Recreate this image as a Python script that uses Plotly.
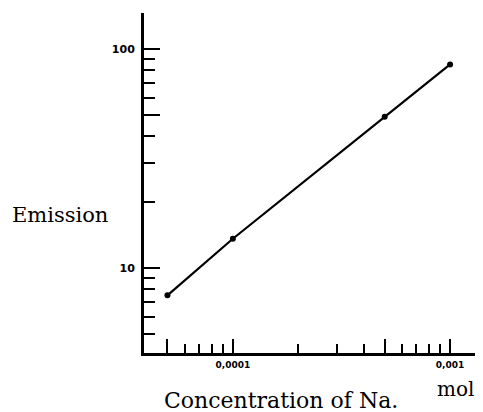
import plotly.graph_objects as go
import math

# Data
conc = [5e-5, 1e-4, 5e-4, 1e-3]          # mol
emission = [7.5, 13.6, 49, 85]

x_major = [5e-5, 1e-4, 5e-4, 1e-3]
x_major_text = ["", "0,0001", "", "0,001"]
x_minor = [6e-5, 7e-5, 8e-5, 9e-5, 2e-4, 3e-4, 4e-4, 6e-4, 7e-4, 8e-4, 9e-4]

y_major = [10, 50, 100]
y_major_text = ["10", "", "100"]
y_minor = [5, 6, 7, 8, 9, 20, 30, 40, 60, 70, 80, 90]

x_range = [math.log10(3.9e-5), math.log10(1.33e-3)]
y_range = [math.log10(4.09), math.log10(146)]

OFF = 8  # default page body margin
W, H = 483 - OFF, 412 - OFF
L, R, T, B = 144 - OFF, 6, 13 - OFF, 59
pw, ph = W - L - R, H - T - B

def px(x):
    return (x - OFF - L) / pw

def py(y):
    return (H - B - (y - OFF)) / ph

fig = go.Figure()
fig.add_trace(go.Scatter(x=conc, y=emission, mode="lines+markers",
                         line=dict(color="black", width=2.2),
                         marker=dict(color="black", size=6),
                         showlegend=False, hoverinfo="skip"))
# invisible trace to hold the minor-tick overlay axes
fig.add_trace(go.Scatter(x=[conc[0]], y=[emission[0]], xaxis="x2", yaxis="y2",
                         mode="markers", marker=dict(opacity=0),
                         showlegend=False, hoverinfo="skip"))

fig.update_layout(
    width=W, height=H,
    margin=dict(l=L, r=R, t=T, b=B),
    paper_bgcolor="white", plot_bgcolor="white",
    xaxis=dict(type="log", range=x_range, showgrid=False, zeroline=False,
               showline=True, linecolor="black", linewidth=3,
               tickvals=x_major, ticktext=x_major_text,
               ticks="inside", ticklen=14, tickwidth=2, tickcolor="black",
               tickfont=dict(family="DejaVu Sans", size=9, color="black", weight="bold"),
               ticklabelstandoff=1),
    yaxis=dict(type="log", range=y_range, showgrid=False, zeroline=False,
               showline=True, linecolor="black", linewidth=3,
               tickvals=y_major, ticktext=y_major_text,
               ticks="inside", ticklen=16, tickwidth=2, tickcolor="black",
               tickfont=dict(family="DejaVu Sans", size=11, color="black", weight="bold"),
               ticklabelstandoff=4),
    xaxis2=dict(type="log", range=x_range, overlaying="x", anchor="y", side="bottom",
                showgrid=False, zeroline=False, showline=False,
                tickvals=x_minor, showticklabels=False,
                ticks="inside", ticklen=9, tickwidth=2, tickcolor="black"),
    yaxis2=dict(type="log", range=y_range, overlaying="y", anchor="x", side="left",
                showgrid=False, zeroline=False, showline=False,
                tickvals=y_minor, showticklabels=False,
                ticks="inside", ticklen=11, tickwidth=2, tickcolor="black"),
    annotations=[
        dict(text="Emission", xref="paper", yref="paper", x=px(60), y=py(215),
             showarrow=False, xanchor="center", yanchor="middle",
             font=dict(family="DejaVu Serif", size=21, color="black")),
        dict(text="Concentration of Na.", xref="paper", yref="paper", x=px(281), y=py(400),
             showarrow=False, xanchor="center", yanchor="middle",
             font=dict(family="DejaVu Serif", size=22, color="black")),
        dict(text="mol", xref="paper", yref="paper", x=px(455), y=py(389),
             showarrow=False, xanchor="center", yanchor="middle",
             font=dict(family="DejaVu Serif", size=20, color="black")),
    ],
)

fig.write_html("out.html")
